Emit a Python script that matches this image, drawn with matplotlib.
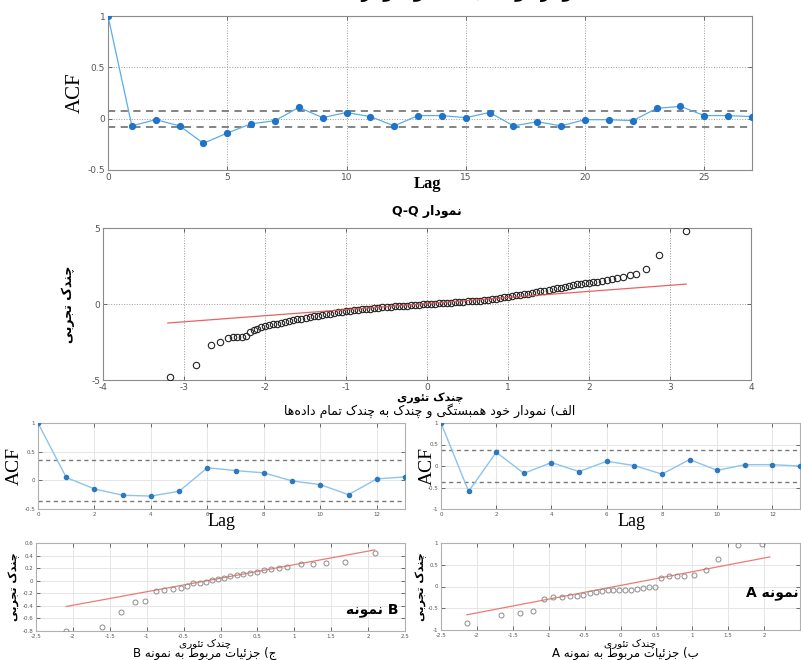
import matplotlib

matplotlib.use("Agg")
import matplotlib.pyplot as plt
from matplotlib.ticker import FuncFormatter


W, H = 801, 660

# autocorrelation of the full series
acf_lags = [0, 1, 2, 3, 4, 5, 6, 7, 8, 9, 10, 11, 12, 13,
            14, 15, 16, 17, 18, 19, 20, 21, 22, 23, 24, 25, 26, 27]
acf_vals = [1.0, -0.07, -0.01, -0.07, -0.24, -0.14, -0.05, -0.02, 0.11, 0.01,
            0.06, 0.02, -0.07, 0.03, 0.03, 0.01, 0.06, -0.07, -0.03, -0.07,
            -0.01, -0.01, -0.02, 0.10, 0.12, 0.03, 0.03, 0.02]
acf_bound = 0.077

# Q-Q of the full series
qq_x = [-3.17, -2.85, -2.67, -2.56, -2.46, -2.40, -2.34, -2.29, -2.24, -2.19, -2.14,
        -2.10, -2.05, -2.00, -1.95, -1.90, -1.85, -1.80, -1.75, -1.70, -1.65,
        -1.60, -1.55, -1.50, -1.45, -1.40, -1.35, -1.30, -1.25, -1.20, -1.15,
        -1.10, -1.05, -1.00, -0.95, -0.90, -0.85, -0.80, -0.75, -0.70, -0.65,
        -0.60, -0.55, -0.50, -0.45, -0.40, -0.35, -0.30, -0.25, -0.20, -0.15,
        -0.10, -0.05, 0.00, 0.05, 0.10, 0.15, 0.20, 0.25, 0.30, 0.35,
        0.40, 0.45, 0.50, 0.55, 0.60, 0.65, 0.70, 0.75, 0.80, 0.85,
        0.90, 0.95, 1.00, 1.05, 1.10, 1.15, 1.20, 1.25, 1.30, 1.35,
        1.40, 1.45, 1.50, 1.55, 1.60, 1.65, 1.70, 1.75, 1.80, 1.85,
        1.90, 1.95, 2.00, 2.05,
        2.10, 2.16, 2.22, 2.28, 2.35, 2.42, 2.50, 2.58, 2.70, 2.87, 3.20]
qq_y = [-4.81, -4.03, -2.67, -2.49, -2.25, -2.16, -2.15, -2.15, -2.12, -1.85, -1.72,
        -1.62, -1.52, -1.46, -1.40, -1.34, -1.29, -1.23, -1.17, -1.11, -1.06,
        -1.01, -0.96, -0.92, -0.87, -0.82, -0.77, -0.72, -0.68, -0.63, -0.59,
        -0.55, -0.51, -0.48, -0.45, -0.42, -0.39, -0.36, -0.33, -0.30, -0.27,
        -0.25, -0.22, -0.20, -0.18, -0.16, -0.14, -0.12, -0.10, -0.08, -0.06,
        -0.04, -0.02, 0.00, 0.02, 0.03, 0.05, 0.06, 0.08, 0.09, 0.11,
        0.13, 0.15, 0.17, 0.19, 0.21, 0.23, 0.26, 0.29, 0.32, 0.35,
        0.39, 0.43, 0.47, 0.51, 0.56, 0.60, 0.65, 0.69, 0.74, 0.78,
        0.83, 0.88, 0.93, 0.98, 1.03, 1.08, 1.13, 1.18, 1.24, 1.29,
        1.33, 1.37, 1.40, 1.43,
        1.46, 1.50, 1.55, 1.62, 1.72, 1.80, 1.88, 1.97, 2.28, 3.24, 4.78]
qq_line_x = [-3.2, 3.2]
qq_line_y = [-1.25, 1.31]

# sample B
acf_b_lags = [0, 1, 2, 3, 4, 5, 6, 7, 8, 9, 10, 11, 12, 13]
acf_b_vals = [1.0, 0.05, -0.15, -0.26, -0.275, -0.19, 0.22, 0.17, 0.13, -0.01,
              -0.075, -0.25, 0.025, 0.06]
acf_b_bound = 0.36
qq_b_x = [-2.09, -1.61, -1.35, -1.16, -1.02, -0.87, -0.76, -0.65, -0.54, -0.46,
          -0.37, -0.28, -0.20, -0.11, -0.03, 0.05, 0.13, 0.22, 0.31, 0.40,
          0.50, 0.59, 0.69, 0.79, 0.90, 1.09, 1.25, 1.43, 1.69, 2.09]
qq_b_y = [-0.795, -0.73, -0.49, -0.34, -0.33, -0.16, -0.145, -0.13, -0.11, -0.09,
          -0.04, -0.03, -0.02, 0.005, 0.03, 0.04, 0.08, 0.09, 0.11, 0.12,
          0.14, 0.17, 0.18, 0.20, 0.22, 0.26, 0.27, 0.28, 0.29, 0.44]
qq_b_line_x = [-2.09, 2.09]
qq_b_line_y = [-0.41, 0.49]

# sample A
acf_a_lags = [0, 1, 2, 3, 4, 5, 6, 7, 8, 9, 10, 11, 12, 13]
acf_a_vals = [1.0, -0.59, 0.32, -0.17, 0.08, -0.13, 0.11, 0.01, -0.19, 0.15,
              -0.10, 0.03, 0.03, 0.0]
acf_a_bound = 0.37
qq_a_x = [-2.14, -1.66, -1.40, -1.22, -1.06, -0.94, -0.81, -0.70, -0.60, -0.52,
          -0.43, -0.34, -0.26, -0.18, -0.10, -0.02, 0.06, 0.15, 0.23, 0.31,
          0.39, 0.48, 0.57, 0.67, 0.78, 0.89, 1.02, 1.19, 1.36, 1.63, 1.97]
qq_a_y = [-0.84, -0.65, -0.615, -0.57, -0.28, -0.25, -0.235, -0.22, -0.21, -0.185,
          -0.155, -0.13, -0.11, -0.09, -0.09, -0.09, -0.085, -0.07, -0.055, -0.03,
          -0.015, 0.0, 0.19, 0.23, 0.245, 0.25, 0.27, 0.385, 0.64, 0.95, 0.97]
qq_a_line_x = [-2.14, 2.08]
qq_a_line_y = [-0.65, 0.68]


# contextual forms: isolated, final[, initial, medial]
FORMS = {
    "ا": "\uFE8D\uFE8E", "د": "\uFEA9\uFEAA", "ر": "\uFEAD\uFEAE",
    "ز": "\uFEAF\uFEB0", "و": "\uFEED\uFEEE",
    "ب": "\uFE8F\uFE90\uFE91\uFE92", "ت": "\uFE95\uFE96\uFE97\uFE98",
    "ج": "\uFE9D\uFE9E\uFE9F\uFEA0", "خ": "\uFEA5\uFEA6\uFEA7\uFEA8",
    "س": "\uFEB1\uFEB2\uFEB3\uFEB4", "ط": "\uFEC1\uFEC2\uFEC3\uFEC4",
    "ف": "\uFED1\uFED2\uFED3\uFED4", "ل": "\uFEDD\uFEDE\uFEDF\uFEE0",
    "م": "\uFEE1\uFEE2\uFEE3\uFEE4", "ن": "\uFEE5\uFEE6\uFEE7\uFEE8",
    "ه": "\uFEE9\uFEEA\uFEEB\uFEEC", "ئ": "\uFE89\uFE8A\uFE8B\uFE8C",
    "چ": "\uFB7A\uFB7B\uFB7C\uFB7D", "ک": "\uFB8E\uFB8F\uFB90\uFB91",
    "گ": "\uFB92\uFB93\uFB94\uFB95", "ی": "\uFBFC\uFBFD\uFBFE\uFBFF",
}


def fa(text):
    """Shape Persian letters and put them in display order."""
    out = []
    for i, ch in enumerate(text):
        forms = FORMS.get(ch)
        if forms is None:
            if ch != "\u200c":
                out.append(ch)
            continue
        prev = text[i - 1] if i > 0 else ""
        nxt = text[i + 1] if i + 1 < len(text) else ""
        j_prev = prev in FORMS and len(FORMS[prev]) == 4
        j_next = len(forms) == 4 and nxt in FORMS
        idx = 3 if (j_prev and j_next) else 1 if j_prev else 2 if j_next else 0
        out.append(forms[idx])
    vis = "".join(reversed(out))
    return vis.translate(str.maketrans("()", ")("))


def rect(left, top, right, bottom):
    return [left / W, 1 - bottom / H, (right - left) / W, (bottom - top) / H]


def px_text(x, y, s, **kw):
    kw.setdefault("ha", "center")
    kw.setdefault("va", "center")
    return fig.text(x / W, 1 - y / H, s, **kw)


num = FuncFormatter(lambda v, _: f"{v:g}")
FA = "DejaVu Sans"
SERIF = "Liberation Serif"

fig = plt.figure(figsize=(W / 100, H / 100), dpi=100)

# heading sits mostly above the top edge
px_text(430, -7, fa("نمودار خود همبستگی و نمودار Q-Q داده‌ها"),
        fontsize=11, fontweight="bold", family=FA)


def style_axes(ax, grid_ls, grid_color, tick_size, frame="#8a8a8a"):
    ax.grid(True, linestyle=grid_ls, color=grid_color, linewidth=0.7)
    ax.set_axisbelow(True)
    for s in ax.spines.values():
        s.set_color(frame)
        s.set_linewidth(0.8)
    ax.tick_params(direction="in", length=3, width=0.6, colors="#555555",
                   labelsize=tick_size, pad=2, top=True, right=True)
    ax.xaxis.set_major_formatter(num)
    ax.yaxis.set_major_formatter(num)


# top: ACF of all data
ax = fig.add_axes(rect(108, 16, 752, 170))
ax.plot(acf_lags, acf_vals, color="#5aaee6", linewidth=0.9, marker="o",
        markersize=4.2, markerfacecolor="#1f74c9", markeredgecolor="#1f74c9", zorder=3)
for b in (acf_bound, -acf_bound):
    ax.axhline(b, color="#7a7a7a", linestyle=(0, (4, 3)), linewidth=1.3, zorder=2)
ax.set_xlim(0, 27)
ax.set_ylim(-0.5, 1)
ax.set_xticks([0, 5, 10, 15, 20, 25])
ax.set_yticks([-0.5, 0, 0.5, 1])
style_axes(ax, ":", "#9a9a9a", 6.5)
ax.set_ylabel("ACF", family=SERIF, fontsize=15, labelpad=2)
px_text(428, 184, "Lag", family=SERIF, fontsize=12, fontweight="bold")

# middle: Q-Q of all data
ax = fig.add_axes(rect(103, 228, 751, 380))
ax.plot(qq_x, qq_y, linestyle="none", marker="o", markersize=4.6,
        markerfacecolor="none", markeredgecolor="#222222", markeredgewidth=0.8, zorder=3)
ax.plot(qq_line_x, qq_line_y, color="#e8514f", linewidth=0.9, alpha=0.9, zorder=4)
ax.set_xlim(-4, 4)
ax.set_ylim(-5, 5)
ax.set_xticks([-4, -3, -2, -1, 0, 1, 2, 3, 4])
ax.set_yticks([-5, 0, 5])
style_axes(ax, ":", "#9a9a9a", 6.5)
ax.set_title(fa("نمودار Q-Q"), family=FA, fontsize=9, fontweight="bold", pad=9)
ax.set_ylabel(fa("چندک تجربی"), family=FA, fontsize=9, fontweight="bold", labelpad=12)
px_text(430, 398, fa("چندک تئوری"), family=FA, fontsize=8, fontweight="bold")
px_text(430, 411, fa("الف) نمودار خود همبستگی و چندک به چندک تمام داده‌ها"),
        fontsize=9, family=FA)


def small_acf(box, lags, vals, bound, ylim, yticks, label_x, lag_x):
    ax = fig.add_axes(rect(*box))
    ax.plot(lags, vals, color="#8cc4ec", linewidth=1.0, marker="o", markersize=3,
            markerfacecolor="#2e78bd", markeredgecolor="#2e78bd", zorder=3)
    for b in (bound, -bound):
        ax.axhline(b, color="#7a7a7a", linestyle=(0, (3, 2.5)), linewidth=1.0, zorder=2)
    ax.set_xlim(0, 13)
    ax.set_ylim(*ylim)
    ax.set_xticks([0, 2, 4, 6, 8, 10, 12])
    ax.set_yticks(yticks)
    style_axes(ax, "-", "#e6e6e6", 4, frame="#b0b0b0")
    px_text(lag_x, 522, "Lag", family=SERIF, fontsize=13)
    px_text(label_x, 466, "ACF", rotation=90, family=SERIF, fontsize=14)
    return ax


def small_qq(box, xs, ys, line_x, line_y, ylim, yticks, tag, tag_xy, ylabel_x, caption_x):
    ax = fig.add_axes(rect(*box))
    ax.plot(line_x, line_y, color="#f07a72", linewidth=0.9, zorder=2)
    ax.plot(xs, ys, linestyle="none", marker="o", markersize=3.6,
            markerfacecolor="none", markeredgecolor="#8d8d8d", markeredgewidth=0.7, zorder=3)
    ax.set_xlim(-2.5, 2.5)
    ax.set_ylim(*ylim)
    ax.set_xticks([-2.5, -2, -1.5, -1, -0.5, 0, 0.5, 1, 1.5, 2, 2.5])
    ax.set_yticks(yticks)
    style_axes(ax, "-", "#e6e6e6", 4, frame="#b0b0b0")
    px_text(*tag_xy, tag, family=FA, fontsize=10, fontweight="bold")
    px_text(ylabel_x, 587, fa("چندک تجربی"), rotation=90, family=FA,
            fontsize=8, fontweight="bold")
    px_text(caption_x, 643, fa("چندک تئوری"), family=FA, fontsize=7.5)
    return ax


small_acf((38, 423, 405, 509), acf_b_lags, acf_b_vals, acf_b_bound,
          (-0.5, 1), [-0.5, 0, 0.5, 1], 14, 222)
small_acf((441, 423, 800, 509), acf_a_lags, acf_a_vals, acf_a_bound,
          (-1, 1), [-1, -0.5, 0, 0.5, 1], 427, 632)

small_qq((36, 543, 405, 631), qq_b_x, qq_b_y, qq_b_line_x, qq_b_line_y,
         (-0.8, 0.6), [-0.8, -0.6, -0.4, -0.2, 0, 0.2, 0.4, 0.6],
         fa("نمونه") + " B", (372, 610), 14, 205)
ax_a = small_qq((441, 543, 800, 630), qq_a_x, qq_a_y, qq_a_line_x, qq_a_line_y,
                (-1, 1), [-1, -0.5, 0, 0.5, 1],
                "A " + fa("نمونه"), (772, 593), 421, 630)
ax_a.set_xticklabels(["-2.5", "-2", "-1.5", "-1", "-0.5", "0", "0.5", "1", "1.5", "2", ""])

px_text(205, 653, fa("ج) جزئیات مربوط به نمونه B"), family=FA, fontsize=8.5)
px_text(625, 653, fa("ب) جزئیات مربوط به نمونه A"), family=FA, fontsize=8.5)

fig.savefig("out.png", dpi=100)
